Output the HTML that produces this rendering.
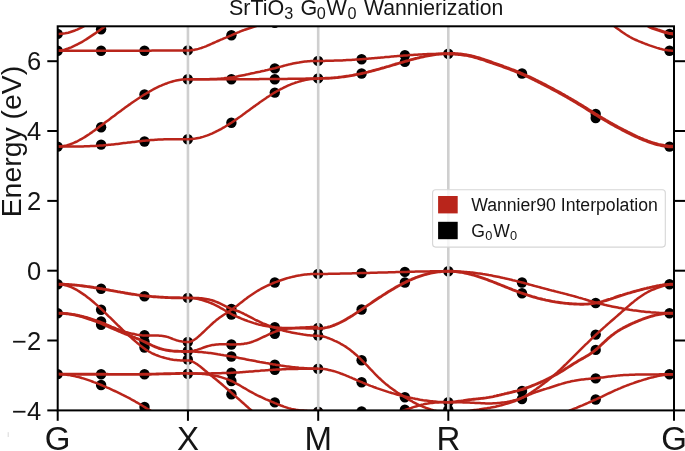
<!DOCTYPE html>
<html><head><meta charset="utf-8"><title>SrTiO3 G0W0 Wannierization</title>
<style>
html,body{margin:0;padding:0;background:#fff;}
body{width:685px;height:451px;overflow:hidden;}
svg{display:block;}
text{font-family:"Liberation Sans",sans-serif;fill:#151515;}
</style></head><body>
<svg width="685" height="451" viewBox="0 0 685 451">
<rect x="0" y="0" width="685" height="451" fill="#ffffff"/>
<defs><clipPath id="ax"><rect x="57.7" y="26.3" width="616.3" height="384.1"/></clipPath></defs>

<g clip-path="url(#ax)" fill="#000000">
<circle cx="57.7" cy="33.9" r="5.2"/>
<circle cx="57.7" cy="50.7" r="5.2"/>
<circle cx="57.7" cy="146.6" r="5.2"/>
<circle cx="57.7" cy="284.2" r="5.2"/>
<circle cx="57.7" cy="313.2" r="5.2"/>
<circle cx="57.7" cy="374.1" r="5.2"/>
<circle cx="101.1" cy="29.2" r="5.2"/>
<circle cx="101.1" cy="50.7" r="5.2"/>
<circle cx="101.1" cy="127.2" r="5.2"/>
<circle cx="101.1" cy="144.6" r="5.2"/>
<circle cx="101.1" cy="288.7" r="5.2"/>
<circle cx="101.1" cy="309.8" r="5.2"/>
<circle cx="101.1" cy="321.5" r="5.2"/>
<circle cx="101.1" cy="324.7" r="5.2"/>
<circle cx="101.1" cy="374.3" r="5.2"/>
<circle cx="101.1" cy="385" r="5.2"/>
<circle cx="144.5" cy="50.7" r="5.2"/>
<circle cx="144.5" cy="94.5" r="5.2"/>
<circle cx="144.5" cy="141.5" r="5.2"/>
<circle cx="144.5" cy="296.2" r="5.2"/>
<circle cx="144.5" cy="335.1" r="5.2"/>
<circle cx="144.5" cy="341.6" r="5.2"/>
<circle cx="144.5" cy="347.5" r="5.2"/>
<circle cx="144.5" cy="374.3" r="5.2"/>
<circle cx="144.5" cy="407" r="5.2"/>
<circle cx="187.8" cy="50.4" r="5.2"/>
<circle cx="187.8" cy="79.3" r="5.2"/>
<circle cx="187.8" cy="139.3" r="5.2"/>
<circle cx="187.8" cy="297.9" r="5.2"/>
<circle cx="187.8" cy="342" r="5.2"/>
<circle cx="187.8" cy="351" r="5.2"/>
<circle cx="187.8" cy="359.5" r="5.2"/>
<circle cx="187.8" cy="373.8" r="5.2"/>
<circle cx="231.4" cy="35.3" r="5.2"/>
<circle cx="231.4" cy="79.3" r="5.2"/>
<circle cx="231.4" cy="122.7" r="5.2"/>
<circle cx="231.4" cy="309" r="5.2"/>
<circle cx="231.4" cy="314.6" r="5.2"/>
<circle cx="231.4" cy="344.5" r="5.2"/>
<circle cx="231.4" cy="356.5" r="5.2"/>
<circle cx="231.4" cy="372.8" r="5.2"/>
<circle cx="231.4" cy="381" r="5.2"/>
<circle cx="231.4" cy="394.3" r="5.2"/>
<circle cx="274.8" cy="22.9" r="5.2"/>
<circle cx="274.8" cy="68.4" r="5.2"/>
<circle cx="274.8" cy="79.3" r="5.2"/>
<circle cx="274.8" cy="92.6" r="5.2"/>
<circle cx="274.8" cy="282.5" r="5.2"/>
<circle cx="274.8" cy="327.2" r="5.2"/>
<circle cx="274.8" cy="333.8" r="5.2"/>
<circle cx="274.8" cy="364.6" r="5.2"/>
<circle cx="274.8" cy="369.7" r="5.2"/>
<circle cx="274.8" cy="402.4" r="5.2"/>
<circle cx="318.1" cy="60.9" r="5.2"/>
<circle cx="318.1" cy="78.4" r="5.2"/>
<circle cx="318.1" cy="273.9" r="5.2"/>
<circle cx="318.1" cy="328" r="5.2"/>
<circle cx="318.1" cy="335.6" r="5.2"/>
<circle cx="318.1" cy="368.7" r="5.2"/>
<circle cx="318.1" cy="411.6" r="5.2"/>
<circle cx="361.6" cy="59.2" r="5.2"/>
<circle cx="361.6" cy="73.5" r="5.2"/>
<circle cx="361.6" cy="273.1" r="5.2"/>
<circle cx="361.6" cy="309.5" r="5.2"/>
<circle cx="361.6" cy="360.2" r="5.2"/>
<circle cx="361.6" cy="382.2" r="5.2"/>
<circle cx="361.6" cy="411.5" r="5.2"/>
<circle cx="404.9" cy="55.2" r="5.2"/>
<circle cx="404.9" cy="61.9" r="5.2"/>
<circle cx="404.9" cy="271.9" r="5.2"/>
<circle cx="404.9" cy="282.5" r="5.2"/>
<circle cx="404.9" cy="397.3" r="5.2"/>
<circle cx="404.9" cy="409.6" r="5.2"/>
<circle cx="448.3" cy="53.7" r="5.2"/>
<circle cx="448.3" cy="271.2" r="5.2"/>
<circle cx="448.3" cy="402.1" r="5.2"/>
<circle cx="448.3" cy="409.6" r="5.2"/>
<circle cx="522.0" cy="73.5" r="5.2"/>
<circle cx="522.0" cy="282.5" r="5.2"/>
<circle cx="522.0" cy="293.2" r="5.2"/>
<circle cx="522.0" cy="391" r="5.2"/>
<circle cx="522.0" cy="399" r="5.2"/>
<circle cx="595.7" cy="114" r="5.2"/>
<circle cx="595.7" cy="118" r="5.2"/>
<circle cx="595.7" cy="303" r="5.2"/>
<circle cx="595.7" cy="334.6" r="5.2"/>
<circle cx="595.7" cy="349.9" r="5.2"/>
<circle cx="595.7" cy="378.4" r="5.2"/>
<circle cx="595.7" cy="399.5" r="5.2"/>
<circle cx="669.5" cy="33.9" r="5.2"/>
<circle cx="669.5" cy="50.7" r="5.2"/>
<circle cx="669.5" cy="146.6" r="5.2"/>
<circle cx="669.5" cy="284.2" r="5.2"/>
<circle cx="669.5" cy="313.2" r="5.2"/>
<circle cx="669.5" cy="374.3" r="5.2"/>
</g>
<g stroke="#cfcfcf" stroke-width="2.6">
<line x1="187.95" y1="26.3" x2="187.95" y2="410.4"/>
<line x1="318.2" y1="26.3" x2="318.2" y2="410.4"/>
<line x1="448.3" y1="26.3" x2="448.3" y2="410.4"/>
</g>
<g clip-path="url(#ax)" fill="none" stroke="#b9251b" stroke-linejoin="round" stroke-linecap="butt">
<path stroke-width="2.5" d="M57.7 50.7 L59.2 50.7 L60.7 50.7 L62.2 50.7 L63.7 50.7 L65.2 50.7 L66.7 50.7 L68.2 50.7 L69.7 50.7 L71.2 50.7 L72.7 50.7 L74.2 50.7 L75.7 50.7 L77.2 50.7 L78.7 50.7 L80.2 50.7 L81.7 50.7 L83.2 50.7 L84.7 50.7 L86.2 50.7 L87.7 50.7 L89.2 50.7 L90.7 50.7 L92.2 50.7 L93.7 50.7 L95.2 50.7 L96.7 50.7 L98.2 50.7 L99.7 50.7 L101.2 50.7 L102.7 50.7 L104.2 50.7 L105.7 50.7 L107.2 50.7 L108.7 50.7 L110.2 50.7 L111.7 50.7 L113.2 50.7 L114.7 50.7 L116.2 50.7 L117.7 50.7 L119.2 50.7 L120.7 50.7 L122.2 50.7 L123.7 50.7 L125.2 50.7 L126.7 50.7 L128.2 50.7 L129.7 50.7 L131.2 50.7 L132.7 50.7 L134.2 50.7 L135.7 50.7 L137.2 50.7 L138.7 50.7 L140.2 50.7 L141.7 50.7 L143.2 50.7 L144.7 50.7 L146.2 50.7 L147.7 50.7 L149.2 50.7 L150.7 50.7 L152.2 50.6 L153.7 50.6 L155.2 50.6 L156.7 50.6 L158.2 50.6 L159.7 50.6 L161.2 50.6 L162.7 50.6 L164.2 50.5 L165.7 50.5 L167.2 50.5 L168.7 50.5 L170.2 50.5 L171.7 50.5 L173.2 50.5 L174.7 50.5 L176.2 50.4 L177.7 50.4 L179.2 50.4 L180.7 50.4 L182.2 50.4 L183.7 50.4 L185.2 50.4 L186.7 50.4 L187.9 50.4"/>
<path stroke-width="2.5" d="M57.7 33.9 L59.2 33.9 L60.7 33.8 L62.2 33.7 L63.7 33.5 L65.2 33.3 L66.7 33.0 L68.2 32.7 L69.7 32.3 L71.2 31.8 L72.7 31.3 L74.2 30.8 L75.7 30.2 L77.2 29.6 L78.7 28.9 L80.2 28.2 L81.7 27.4 L83.2 26.6 L84.7 25.7 L86.2 24.9 L87.7 24.0 L89.2 23.0 L90.7 22.1 L92.2 21.1 L93.7 20.1 L95.2 19.1 L96.7 18.0 L98.2 17.0 L99.7 16.0 L101.1 15.0"/>
<path stroke-width="2.5" d="M57.7 50.7 L59.2 50.6 L60.7 50.5 L62.2 50.2 L63.7 49.9 L65.2 49.5 L66.7 49.0 L68.2 48.5 L69.7 47.9 L71.2 47.3 L72.7 46.6 L74.2 45.9 L75.7 45.2 L77.2 44.5 L78.7 43.7 L80.2 42.9 L81.7 42.1 L83.2 41.2 L84.7 40.3 L86.2 39.4 L87.7 38.4 L89.2 37.4 L90.7 36.4 L92.2 35.4 L93.7 34.4 L95.2 33.4 L96.7 32.3 L98.2 31.3 L99.7 30.2 L101.2 29.1 L102.7 28.0 L104.2 26.9 L105.7 25.7 L107.2 24.5 L108.7 23.3 L110.2 22.0 L111.7 20.8 L113.2 19.5 L114.7 18.3 L115.0 18.0"/>
<path stroke-width="2.5" d="M57.7 146.6 L59.2 146.6 L60.7 146.5 L62.2 146.3 L63.7 146.0 L65.2 145.7 L66.7 145.4 L68.2 144.9 L69.7 144.5 L71.2 143.9 L72.7 143.3 L74.2 142.7 L75.7 142.0 L77.2 141.3 L78.7 140.5 L80.2 139.7 L81.7 138.9 L83.2 138.0 L84.7 137.1 L86.2 136.1 L87.7 135.1 L89.2 134.2 L90.7 133.1 L92.2 132.1 L93.7 131.0 L95.2 129.9 L96.7 128.9 L98.2 127.8 L99.7 126.6 L101.2 125.5 L102.7 124.4 L104.2 123.3 L105.7 122.1 L107.2 121.0 L108.7 119.9 L110.2 118.8 L111.7 117.6 L113.2 116.5 L114.7 115.4 L116.2 114.2 L117.7 113.1 L119.2 112.0 L120.7 110.9 L122.2 109.8 L123.7 108.7 L125.2 107.6 L126.7 106.5 L128.2 105.4 L129.7 104.4 L131.2 103.3 L132.7 102.2 L134.2 101.2 L135.7 100.2 L137.2 99.2 L138.7 98.2 L140.2 97.2 L141.7 96.3 L143.2 95.3 L144.7 94.4 L146.2 93.5 L147.7 92.6 L149.2 91.7 L150.7 90.9 L152.2 90.0 L153.7 89.2 L155.2 88.4 L156.7 87.7 L158.2 86.9 L159.7 86.2 L161.2 85.6 L162.7 84.9 L164.2 84.3 L165.7 83.7 L167.2 83.2 L168.7 82.6 L170.2 82.1 L171.7 81.7 L173.2 81.3 L174.7 80.9 L176.2 80.5 L177.7 80.2 L179.2 79.9 L180.7 79.7 L182.2 79.5 L183.7 79.4 L185.2 79.3 L186.7 79.2 L187.9 79.2"/>
<path stroke-width="2.5" d="M57.7 146.6 L59.2 146.6 L60.7 146.6 L62.2 146.6 L63.7 146.6 L65.2 146.6 L66.7 146.6 L68.2 146.6 L69.7 146.6 L71.2 146.6 L72.7 146.6 L74.2 146.5 L75.7 146.5 L77.2 146.5 L78.7 146.5 L80.2 146.4 L81.7 146.4 L83.2 146.4 L84.7 146.3 L86.2 146.3 L87.7 146.2 L89.2 146.2 L90.7 146.1 L92.2 146.0 L93.7 146.0 L95.2 145.9 L96.7 145.8 L98.2 145.7 L99.7 145.6 L101.2 145.5 L102.7 145.4 L104.2 145.2 L105.7 145.1 L107.2 145.0 L108.7 144.8 L110.2 144.7 L111.7 144.5 L113.2 144.4 L114.7 144.2 L116.2 144.0 L117.7 143.9 L119.2 143.7 L120.7 143.5 L122.2 143.3 L123.7 143.1 L125.2 142.9 L126.7 142.8 L128.2 142.6 L129.7 142.4 L131.2 142.2 L132.7 142.0 L134.2 141.9 L135.7 141.7 L137.2 141.5 L138.7 141.3 L140.2 141.2 L141.7 141.0 L143.2 140.8 L144.7 140.7 L146.2 140.5 L147.7 140.4 L149.2 140.3 L150.7 140.1 L152.2 140.0 L153.7 139.9 L155.2 139.8 L156.7 139.7 L158.2 139.6 L159.7 139.5 L161.2 139.4 L162.7 139.4 L164.2 139.3 L165.7 139.3 L167.2 139.2 L168.7 139.2 L170.2 139.2 L171.7 139.2 L173.2 139.2 L174.7 139.2 L176.2 139.2 L177.7 139.2 L179.2 139.2 L180.7 139.2 L182.2 139.2 L183.7 139.2 L185.2 139.2 L186.7 139.2 L187.9 139.2"/>
<path stroke-width="2.5" d="M187.9 50.4 L189.4 50.4 L190.9 50.3 L192.4 50.1 L193.9 49.9 L195.4 49.6 L196.9 49.3 L198.4 48.9 L199.9 48.4 L201.4 48.0 L202.9 47.4 L204.4 46.9 L205.9 46.3 L207.4 45.6 L208.9 45.0 L210.4 44.3 L211.9 43.7 L213.4 43.0 L214.9 42.3 L216.4 41.7 L217.9 41.0 L219.4 40.3 L220.9 39.7 L222.4 39.1 L223.9 38.4 L225.4 37.8 L226.9 37.2 L228.4 36.6 L229.9 35.9 L231.4 35.3 L232.9 34.6 L234.4 34.0 L235.9 33.3 L237.4 32.7 L238.9 32.1 L240.4 31.4 L241.9 30.8 L243.4 30.3 L244.9 29.7 L246.4 29.2 L247.9 28.7 L249.4 28.2 L250.9 27.7 L252.4 27.2 L253.9 26.8 L255.4 26.4 L256.9 25.9 L258.4 25.5 L259.9 25.1 L261.4 24.7 L262.9 24.3 L264.4 24.0 L265.9 23.6 L267.4 23.2 L268.9 22.9 L270.4 22.5 L271.9 22.2 L273.4 21.8 L274.8 21.5"/>
<path stroke-width="2.5" d="M187.9 79.3 L189.4 79.3 L190.9 79.3 L192.4 79.3 L193.9 79.3 L195.4 79.3 L196.9 79.3 L198.4 79.3 L199.9 79.3 L201.4 79.3 L202.9 79.3 L204.4 79.3 L205.9 79.3 L207.4 79.3 L208.9 79.3 L210.4 79.3 L211.9 79.3 L213.4 79.3 L214.9 79.3 L216.4 79.3 L217.9 79.3 L219.4 79.3 L220.9 79.3 L222.4 79.3 L223.9 79.3 L225.4 79.3 L226.9 79.3 L228.4 79.3 L229.9 79.3 L231.4 79.3 L232.9 79.3 L234.4 79.3 L235.9 79.3 L237.4 79.3 L238.9 79.3 L240.4 79.3 L241.9 79.3 L243.4 79.3 L244.9 79.2 L246.4 79.2 L247.9 79.2 L249.4 79.2 L250.9 79.2 L252.4 79.2 L253.9 79.2 L255.4 79.2 L256.9 79.2 L258.4 79.2 L259.9 79.1 L261.4 79.1 L262.9 79.1 L264.4 79.1 L265.9 79.1 L267.4 79.1 L268.9 79.1 L270.4 79.0 L271.9 79.0 L273.4 79.0 L274.9 79.0 L276.4 79.0 L277.9 79.0 L279.4 78.9 L280.9 78.9 L282.4 78.9 L283.9 78.9 L285.4 78.9 L286.9 78.9 L288.4 78.8 L289.9 78.8 L291.4 78.8 L292.9 78.8 L294.4 78.8 L295.9 78.7 L297.4 78.7 L298.9 78.7 L300.4 78.7 L301.9 78.7 L303.4 78.7 L304.9 78.7 L306.4 78.6 L307.9 78.6 L309.4 78.6 L310.9 78.6 L312.4 78.6 L313.9 78.6 L315.4 78.6 L316.9 78.6 L318.2 78.6"/>
<path stroke-width="2.5" d="M187.9 79.3 L189.4 79.3 L190.9 79.3 L192.4 79.3 L193.9 79.3 L195.4 79.3 L196.9 79.3 L198.4 79.3 L199.9 79.3 L201.4 79.3 L202.9 79.3 L204.4 79.3 L205.9 79.2 L207.4 79.2 L208.9 79.2 L210.4 79.1 L211.9 79.1 L213.4 79.0 L214.9 78.9 L216.4 78.9 L217.9 78.8 L219.4 78.7 L220.9 78.6 L222.4 78.4 L223.9 78.3 L225.4 78.1 L226.9 78.0 L228.4 77.8 L229.9 77.6 L231.4 77.4 L232.9 77.2 L234.4 76.9 L235.9 76.7 L237.4 76.4 L238.9 76.1 L240.4 75.8 L241.9 75.5 L243.4 75.2 L244.9 74.9 L246.4 74.6 L247.9 74.3 L249.4 73.9 L250.9 73.6 L252.4 73.3 L253.9 73.0 L255.4 72.6 L256.9 72.3 L258.4 72.0 L259.9 71.7 L261.4 71.3 L262.9 71.0 L264.4 70.7 L265.9 70.3 L267.4 70.0 L268.9 69.6 L270.4 69.3 L271.9 68.9 L273.4 68.5 L274.9 68.2 L276.4 67.8 L277.9 67.4 L279.4 67.0 L280.9 66.6 L282.4 66.2 L283.9 65.8 L285.4 65.4 L286.9 65.0 L288.4 64.6 L289.9 64.3 L291.4 63.9 L292.9 63.6 L294.4 63.3 L295.9 63.0 L297.4 62.7 L298.9 62.5 L300.4 62.2 L301.9 62.0 L303.4 61.8 L304.9 61.6 L306.4 61.5 L307.9 61.3 L309.4 61.2 L310.9 61.1 L312.4 61.0 L313.9 61.0 L315.4 60.9 L316.9 60.9 L318.2 60.9"/>
<path stroke-width="2.5" d="M187.9 139.2 L189.4 139.2 L190.9 139.1 L192.4 139.0 L193.9 138.8 L195.4 138.6 L196.9 138.3 L198.4 138.0 L199.9 137.7 L201.4 137.3 L202.9 136.9 L204.4 136.4 L205.9 135.9 L207.4 135.4 L208.9 134.8 L210.4 134.2 L211.9 133.6 L213.4 132.9 L214.9 132.2 L216.4 131.4 L217.9 130.7 L219.4 129.9 L220.9 129.1 L222.4 128.2 L223.9 127.4 L225.4 126.5 L226.9 125.5 L228.4 124.6 L229.9 123.6 L231.4 122.7 L232.9 121.7 L234.4 120.7 L235.9 119.6 L237.4 118.6 L238.9 117.5 L240.4 116.5 L241.9 115.4 L243.4 114.3 L244.9 113.2 L246.4 112.1 L247.9 111.0 L249.4 109.9 L250.9 108.8 L252.4 107.7 L253.9 106.6 L255.4 105.6 L256.9 104.5 L258.4 103.4 L259.9 102.3 L261.4 101.3 L262.9 100.2 L264.4 99.2 L265.9 98.2 L267.4 97.1 L268.9 96.2 L270.4 95.2 L271.9 94.2 L273.4 93.3 L274.9 92.4 L276.4 91.5 L277.9 90.7 L279.4 89.8 L280.9 89.0 L282.4 88.3 L283.9 87.5 L285.4 86.8 L286.9 86.1 L288.4 85.4 L289.9 84.8 L291.4 84.2 L292.9 83.6 L294.4 83.1 L295.9 82.5 L297.4 82.1 L298.9 81.6 L300.4 81.2 L301.9 80.8 L303.4 80.4 L304.9 80.1 L306.4 79.8 L307.9 79.5 L309.4 79.3 L310.9 79.1 L312.4 79.0 L313.9 78.8 L315.4 78.8 L316.9 78.7 L318.2 78.7"/>
<path stroke-width="2.5" d="M318.2 60.9 L319.7 60.9 L321.2 60.9 L322.7 60.9 L324.2 60.9 L325.7 60.8 L327.2 60.8 L328.7 60.8 L330.2 60.8 L331.7 60.7 L333.2 60.7 L334.7 60.6 L336.2 60.6 L337.7 60.5 L339.2 60.5 L340.7 60.4 L342.2 60.4 L343.7 60.3 L345.2 60.2 L346.7 60.1 L348.2 60.1 L349.7 60.0 L351.2 59.9 L352.7 59.8 L354.2 59.7 L355.7 59.6 L357.2 59.5 L358.7 59.4 L360.2 59.3 L361.7 59.2 L363.2 59.1 L364.7 59.0 L366.2 58.8 L367.7 58.7 L369.2 58.6 L370.7 58.5 L372.2 58.3 L373.7 58.2 L375.2 58.1 L376.7 58.0 L378.2 57.8 L379.7 57.7 L381.2 57.5 L382.7 57.4 L384.2 57.3 L385.7 57.1 L387.2 57.0 L388.7 56.9 L390.2 56.7 L391.7 56.6 L393.2 56.5 L394.7 56.3 L396.2 56.2 L397.7 56.1 L399.2 56.0 L400.7 55.8 L402.2 55.7 L403.7 55.6 L405.2 55.5 L406.7 55.4 L408.2 55.3 L409.7 55.1 L411.2 55.0 L412.7 54.9 L414.2 54.8 L415.7 54.8 L417.2 54.7 L418.7 54.6 L420.2 54.5 L421.7 54.4 L423.2 54.3 L424.7 54.3 L426.2 54.2 L427.7 54.1 L429.2 54.1 L430.7 54.0 L432.2 54.0 L433.7 53.9 L435.2 53.9 L436.7 53.8 L438.2 53.8 L439.7 53.8 L441.2 53.8 L442.7 53.7 L444.2 53.7 L445.7 53.7 L447.2 53.7 L448.3 53.7"/>
<path stroke-width="2.9" d="M318.2 78.5 L319.7 78.5 L321.2 78.5 L322.7 78.4 L324.2 78.4 L325.7 78.3 L327.2 78.3 L328.7 78.2 L330.2 78.1 L331.7 78.0 L333.2 77.9 L334.7 77.7 L336.2 77.6 L337.7 77.5 L339.2 77.3 L340.7 77.1 L342.2 76.9 L343.7 76.7 L345.2 76.5 L346.7 76.3 L348.2 76.1 L349.7 75.8 L351.2 75.6 L352.7 75.3 L354.2 75.0 L355.7 74.7 L357.2 74.4 L358.7 74.1 L360.2 73.8 L361.7 73.5 L363.2 73.1 L364.7 72.8 L366.2 72.4 L367.7 72.1 L369.2 71.7 L370.7 71.3 L372.2 70.9 L373.7 70.5 L375.2 70.1 L376.7 69.7 L378.2 69.3 L379.7 68.9 L381.2 68.4 L382.7 68.0 L384.2 67.6 L385.7 67.1 L387.2 66.7 L388.7 66.3 L390.2 65.8 L391.7 65.4 L393.2 64.9 L394.7 64.5 L396.2 64.0 L397.7 63.6 L399.2 63.2 L400.7 62.7 L402.2 62.3 L403.7 61.8 L405.2 61.4 L406.7 61.0 L408.2 60.6 L409.7 60.1 L411.2 59.7 L412.7 59.3 L414.2 58.9 L415.7 58.5 L417.2 58.2 L418.7 57.8 L420.2 57.4 L421.7 57.1 L423.2 56.8 L424.7 56.4 L426.2 56.1 L427.7 55.8 L429.2 55.6 L430.7 55.3 L432.2 55.0 L433.7 54.8 L435.2 54.6 L436.7 54.4 L438.2 54.3 L439.7 54.1 L441.2 54.0 L442.7 53.9 L444.2 53.8 L445.7 53.7 L447.2 53.7 L448.3 53.7"/>
<path stroke-width="3.5" d="M448.3 53.7 L449.8 53.7 L451.3 53.7 L452.8 53.8 L454.3 53.8 L455.8 53.9 L457.3 54.0 L458.8 54.2 L460.3 54.3 L461.8 54.5 L463.3 54.7 L464.8 54.9 L466.3 55.1 L467.8 55.4 L469.3 55.7 L470.8 56.0 L472.3 56.4 L473.8 56.8 L475.3 57.2 L476.8 57.6 L478.3 58.0 L479.8 58.5 L481.3 59.0 L482.8 59.4 L484.3 59.9 L485.8 60.5 L487.3 61.0 L488.8 61.5 L490.3 62.0 L491.8 62.5 L493.3 63.1 L494.8 63.6 L496.3 64.1 L497.8 64.6 L499.3 65.2 L500.8 65.7 L502.3 66.2 L503.8 66.8 L505.3 67.3 L506.8 67.9 L508.3 68.4 L509.8 69.0 L511.3 69.6 L512.8 70.1 L514.3 70.7 L515.8 71.3 L517.3 71.9 L518.8 72.5 L520.3 73.2 L521.8 73.8 L523.3 74.5 L524.8 75.1 L526.3 75.8 L527.8 76.5 L529.3 77.2 L530.8 77.9 L532.3 78.6 L533.8 79.3 L535.3 80.1 L536.8 80.8 L538.3 81.6 L539.8 82.3 L541.3 83.1 L542.8 83.9 L544.3 84.6 L545.8 85.4 L547.3 86.2 L548.8 87.0 L550.3 87.8 L551.8 88.6 L553.3 89.4 L554.8 90.2 L556.3 91.0 L557.8 91.8 L559.3 92.6 L560.8 93.4 L562.3 94.3 L563.8 95.1 L565.3 96.0 L566.8 96.8 L568.3 97.7 L569.8 98.5 L571.3 99.4 L572.8 100.3 L574.3 101.2 L575.8 102.1 L577.3 103.0 L578.8 103.9 L580.3 104.8 L581.8 105.7 L583.3 106.6 L584.8 107.6 L586.3 108.5 L587.8 109.5 L589.3 110.4 L590.8 111.3 L592.3 112.3 L593.8 113.2 L595.3 114.2 L596.8 115.1 L598.3 116.0 L599.8 116.9 L601.3 117.8 L602.8 118.7 L604.3 119.6 L605.8 120.5 L607.3 121.3 L608.8 122.2 L610.3 123.1 L611.8 123.9 L613.3 124.7 L614.8 125.6 L616.3 126.4 L617.8 127.2 L619.3 128.0 L620.8 128.8 L622.3 129.6 L623.8 130.4 L625.3 131.1 L626.8 131.9 L628.3 132.7 L629.8 133.4 L631.3 134.1 L632.8 134.9 L634.3 135.6 L635.8 136.3 L637.3 137.0 L638.8 137.6 L640.3 138.3 L641.8 138.9 L643.3 139.6 L644.8 140.2 L646.3 140.7 L647.8 141.3 L649.3 141.8 L650.8 142.4 L652.3 142.9 L653.8 143.3 L655.3 143.8 L656.8 144.2 L658.3 144.6 L659.8 144.9 L661.3 145.2 L662.8 145.5 L664.3 145.8 L665.8 146.0 L667.3 146.2 L668.8 146.4 L670.3 146.5 L671.8 146.6 L673.3 146.6 L674.0 146.6"/>
<path stroke-width="2.5" d="M600.0 14.0 L601.5 15.3 L603.0 16.6 L604.5 17.9 L606.0 19.2 L607.5 20.5 L609.0 21.8 L610.5 23.0 L612.0 24.3 L613.5 25.5 L615.0 26.7 L616.5 27.9 L618.0 29.0 L619.5 30.1 L621.0 31.2 L622.5 32.3 L624.0 33.3 L625.5 34.3 L627.0 35.2 L628.5 36.1 L630.0 37.0 L631.5 37.8 L633.0 38.6 L634.5 39.3 L636.0 40.0 L637.5 40.7 L639.0 41.3 L640.5 41.9 L642.0 42.5 L643.5 43.1 L645.0 43.7 L646.5 44.2 L648.0 44.8 L649.5 45.4 L651.0 45.9 L652.5 46.4 L654.0 46.9 L655.5 47.4 L657.0 47.9 L658.5 48.3 L660.0 48.8 L661.5 49.1 L663.0 49.5 L664.5 49.8 L666.0 50.0 L667.5 50.3 L669.0 50.4 L670.5 50.6 L672.0 50.7 L673.5 50.7 L674.0 50.7"/>
<path stroke-width="3.2" d="M640.0 20.0 L641.5 21.2 L643.0 22.4 L644.5 23.5 L646.0 24.6 L647.5 25.6 L649.0 26.5 L650.5 27.3 L652.0 27.9 L653.5 28.5 L655.0 29.0 L656.5 29.5 L658.0 30.0 L659.5 30.4 L661.0 30.9 L662.5 31.4 L664.0 31.9 L665.5 32.4 L667.0 32.8 L668.5 33.2 L670.0 33.5 L671.5 33.7 L673.0 33.9 L674.0 33.9"/>
<path stroke-width="2.9" d="M57.7 284.2 L59.2 284.2 L60.7 284.2 L62.2 284.3 L63.7 284.3 L65.2 284.4 L66.7 284.4 L68.2 284.5 L69.7 284.6 L71.2 284.7 L72.7 284.9 L74.2 285.0 L75.7 285.1 L77.2 285.3 L78.7 285.4 L80.2 285.6 L81.7 285.8 L83.2 286.0 L84.7 286.2 L86.2 286.4 L87.7 286.6 L89.2 286.8 L90.7 287.0 L92.2 287.2 L93.7 287.5 L95.2 287.7 L96.7 288.0 L98.2 288.2 L99.7 288.5 L101.2 288.7 L102.7 289.0 L104.2 289.2 L105.7 289.5 L107.2 289.8 L108.7 290.0 L110.2 290.3 L111.7 290.6 L113.2 290.8 L114.7 291.1 L116.2 291.4 L117.7 291.7 L119.2 291.9 L120.7 292.2 L122.2 292.4 L123.7 292.7 L125.2 293.0 L126.7 293.2 L128.2 293.5 L129.7 293.7 L131.2 294.0 L132.7 294.2 L134.2 294.4 L135.7 294.6 L137.2 294.9 L138.7 295.1 L140.2 295.3 L141.7 295.5 L143.2 295.6 L144.7 295.8 L146.2 296.0 L147.7 296.2 L149.2 296.3 L150.7 296.4 L152.2 296.6 L153.7 296.7 L155.2 296.8 L156.7 296.9 L158.2 297.0 L159.7 297.1 L161.2 297.2 L162.7 297.3 L164.2 297.4 L165.7 297.5 L167.2 297.5 L168.7 297.6 L170.2 297.6 L171.7 297.7 L173.2 297.7 L174.7 297.8 L176.2 297.8 L177.7 297.8 L179.2 297.8 L180.7 297.9 L182.2 297.9 L183.7 297.9 L185.2 297.9 L186.7 297.9 L187.9 297.9"/>
<path stroke-width="2.5" d="M57.7 284.2 L59.2 284.2 L60.7 284.4 L62.2 284.6 L63.7 284.8 L65.2 285.2 L66.7 285.6 L68.2 286.1 L69.7 286.6 L71.2 287.2 L72.7 287.9 L74.2 288.6 L75.7 289.4 L77.2 290.2 L78.7 291.1 L80.2 292.1 L81.7 293.1 L83.2 294.1 L84.7 295.1 L86.2 296.2 L87.7 297.4 L89.2 298.6 L90.7 299.8 L92.2 301.0 L93.7 302.3 L95.2 303.6 L96.7 304.9 L98.2 306.2 L99.7 307.6 L101.2 309.0 L102.7 310.4 L104.2 311.9 L105.7 313.3 L107.2 314.8 L108.7 316.3 L110.2 317.7 L111.7 319.2 L113.2 320.7 L114.7 322.2 L116.2 323.6 L117.7 325.1 L119.2 326.5 L120.7 327.9 L122.2 329.4 L123.7 330.8 L125.2 332.2 L126.7 333.6 L128.2 334.9 L129.7 336.3 L131.2 337.6 L132.7 339.0 L134.2 340.3 L135.7 341.6 L137.2 342.9 L138.7 344.1 L140.2 345.4 L141.7 346.6 L143.2 347.7 L144.7 348.8 L146.2 349.9 L147.7 350.8 L149.2 351.7 L150.7 352.5 L152.2 353.3 L153.7 354.0 L155.2 354.7 L156.7 355.3 L158.2 355.8 L159.7 356.4 L161.2 356.9 L162.7 357.3 L164.2 357.7 L165.7 358.1 L167.2 358.5 L168.7 358.8 L170.2 359.2 L171.7 359.4 L173.2 359.7 L174.7 359.9 L176.2 360.0 L177.7 360.2 L179.2 360.3 L180.7 360.4 L182.2 360.4 L183.7 360.5 L185.2 360.5 L186.7 360.5 L187.9 360.5"/>
<path stroke-width="2.5" d="M57.7 313.2 L59.2 313.2 L60.7 313.2 L62.2 313.3 L63.7 313.4 L65.2 313.5 L66.7 313.6 L68.2 313.8 L69.7 313.9 L71.2 314.1 L72.7 314.4 L74.2 314.6 L75.7 314.9 L77.2 315.1 L78.7 315.4 L80.2 315.8 L81.7 316.1 L83.2 316.5 L84.7 316.9 L86.2 317.3 L87.7 317.7 L89.2 318.1 L90.7 318.6 L92.2 319.1 L93.7 319.6 L95.2 320.1 L96.7 320.6 L98.2 321.2 L99.7 321.7 L101.2 322.3 L102.7 322.9 L104.2 323.5 L105.7 324.2 L107.2 324.8 L108.7 325.5 L110.2 326.1 L111.7 326.8 L113.2 327.4 L114.7 328.0 L116.2 328.7 L117.7 329.3 L119.2 329.8 L120.7 330.4 L122.2 330.9 L123.7 331.4 L125.2 331.9 L126.7 332.3 L128.2 332.7 L129.7 333.1 L131.2 333.5 L132.7 333.8 L134.2 334.1 L135.7 334.4 L137.2 334.7 L138.7 334.9 L140.2 335.1 L141.7 335.3 L143.2 335.4 L144.7 335.5 L146.2 335.6 L147.7 335.6 L149.2 335.6 L150.7 335.6 L152.2 335.6 L153.7 335.6 L155.2 335.6 L156.7 335.6 L158.2 335.6 L159.7 335.7 L161.2 335.8 L162.7 335.9 L164.2 336.2 L165.7 336.5 L167.2 336.9 L168.7 337.3 L170.2 337.9 L171.7 338.5 L173.2 339.1 L174.7 339.6 L176.2 340.2 L177.7 340.6 L179.2 341.0 L180.7 341.3 L182.2 341.6 L183.7 341.8 L185.2 341.9 L186.7 342.0 L187.9 342.0"/>
<path stroke-width="2.9" d="M57.7 313.2 L59.2 313.2 L60.7 313.3 L62.2 313.3 L63.7 313.4 L65.2 313.6 L66.7 313.7 L68.2 313.9 L69.7 314.1 L71.2 314.4 L72.7 314.6 L74.2 314.9 L75.7 315.2 L77.2 315.6 L78.7 315.9 L80.2 316.3 L81.7 316.7 L83.2 317.1 L84.7 317.6 L86.2 318.0 L87.7 318.5 L89.2 319.0 L90.7 319.5 L92.2 320.1 L93.7 320.6 L95.2 321.2 L96.7 321.7 L98.2 322.3 L99.7 322.9 L101.2 323.5 L102.7 324.2 L104.2 324.8 L105.7 325.4 L107.2 326.1 L108.7 326.8 L110.2 327.4 L111.7 328.1 L113.2 328.7 L114.7 329.4 L116.2 330.0 L117.7 330.7 L119.2 331.3 L120.7 332.0 L122.2 332.6 L123.7 333.2 L125.2 333.8 L126.7 334.4 L128.2 335.0 L129.7 335.6 L131.2 336.2 L132.7 336.8 L134.2 337.3 L135.7 338.0 L137.2 338.6 L138.7 339.2 L140.2 339.8 L141.7 340.5 L143.2 341.2 L144.7 341.9 L146.2 342.6 L147.7 343.4 L149.2 344.1 L150.7 344.8 L152.2 345.5 L153.7 346.2 L155.2 346.8 L156.7 347.4 L158.2 348.0 L159.7 348.5 L161.2 348.9 L162.7 349.3 L164.2 349.7 L165.7 350.0 L167.2 350.3 L168.7 350.5 L170.2 350.7 L171.7 350.9 L173.2 351.1 L174.7 351.2 L176.2 351.3 L177.7 351.3 L179.2 351.4 L180.7 351.4 L182.2 351.5 L183.7 351.5 L185.2 351.5 L186.7 351.5 L187.9 351.5"/>
<path stroke-width="2.9" d="M57.7 374.1 L59.2 374.1 L60.7 374.1 L62.2 374.1 L63.7 374.1 L65.2 374.1 L66.7 374.1 L68.2 374.1 L69.7 374.1 L71.2 374.1 L72.7 374.1 L74.2 374.1 L75.7 374.1 L77.2 374.1 L78.7 374.2 L80.2 374.2 L81.7 374.2 L83.2 374.2 L84.7 374.2 L86.2 374.2 L87.7 374.2 L89.2 374.2 L90.7 374.2 L92.2 374.2 L93.7 374.2 L95.2 374.3 L96.7 374.3 L98.2 374.3 L99.7 374.3 L101.2 374.3 L102.7 374.3 L104.2 374.3 L105.7 374.3 L107.2 374.3 L108.7 374.4 L110.2 374.4 L111.7 374.4 L113.2 374.4 L114.7 374.4 L116.2 374.4 L117.7 374.4 L119.2 374.4 L120.7 374.4 L122.2 374.4 L123.7 374.4 L125.2 374.4 L126.7 374.4 L128.2 374.4 L129.7 374.4 L131.2 374.4 L132.7 374.4 L134.2 374.4 L135.7 374.4 L137.2 374.4 L138.7 374.4 L140.2 374.4 L141.7 374.3 L143.2 374.3 L144.7 374.3 L146.2 374.3 L147.7 374.2 L149.2 374.2 L150.7 374.2 L152.2 374.1 L153.7 374.1 L155.2 374.1 L156.7 374.0 L158.2 374.0 L159.7 373.9 L161.2 373.9 L162.7 373.9 L164.2 373.8 L165.7 373.8 L167.2 373.7 L168.7 373.7 L170.2 373.7 L171.7 373.6 L173.2 373.6 L174.7 373.6 L176.2 373.5 L177.7 373.5 L179.2 373.5 L180.7 373.4 L182.2 373.4 L183.7 373.4 L185.2 373.4 L186.7 373.4 L187.9 373.4"/>
<path stroke-width="2.5" d="M57.7 374.1 L59.2 374.1 L60.7 374.2 L62.2 374.3 L63.7 374.4 L65.2 374.5 L66.7 374.7 L68.2 374.9 L69.7 375.1 L71.2 375.4 L72.7 375.7 L74.2 376.0 L75.7 376.4 L77.2 376.7 L78.7 377.1 L80.2 377.5 L81.7 378.0 L83.2 378.4 L84.7 378.9 L86.2 379.4 L87.7 379.9 L89.2 380.4 L90.7 380.9 L92.2 381.5 L93.7 382.1 L95.2 382.6 L96.7 383.2 L98.2 383.8 L99.7 384.4 L101.2 385.0 L102.7 385.7 L104.2 386.3 L105.7 386.9 L107.2 387.6 L108.7 388.2 L110.2 388.9 L111.7 389.6 L113.2 390.3 L114.7 391.0 L116.2 391.7 L117.7 392.4 L119.2 393.1 L120.7 393.8 L122.2 394.6 L123.7 395.3 L125.2 396.1 L126.7 396.9 L128.2 397.6 L129.7 398.4 L131.2 399.3 L132.7 400.1 L134.2 400.9 L135.7 401.8 L137.2 402.6 L138.7 403.5 L140.2 404.4 L141.7 405.3 L143.2 406.2 L144.7 407.1 L146.2 408.1 L147.7 409.0 L149.2 409.9 L150.7 410.8 L152.2 411.7 L153.7 412.5 L155.2 413.3 L156.7 414.0 L158.2 414.8 L159.7 415.5 L161.2 416.2 L162.7 416.9 L164.2 417.5 L165.7 418.2 L167.2 418.8 L168.7 419.4 L170.0 420.0"/>
<path stroke-width="2.5" d="M187.9 297.9 L189.4 297.9 L190.9 297.9 L192.4 297.9 L193.9 297.9 L195.4 297.9 L196.9 298.0 L198.4 298.1 L199.9 298.2 L201.4 298.3 L202.9 298.5 L204.4 298.7 L205.9 298.9 L207.4 299.2 L208.9 299.5 L210.4 299.9 L211.9 300.3 L213.4 300.8 L214.9 301.3 L216.4 301.9 L217.9 302.5 L219.4 303.2 L220.9 303.9 L222.4 304.6 L223.9 305.3 L225.4 306.1 L226.9 306.8 L228.4 307.5 L229.9 308.2 L231.4 308.8 L232.9 309.4 L234.4 309.9 L235.9 310.5 L237.4 311.0 L238.9 311.5 L240.4 312.2 L241.9 312.8 L243.4 313.5 L244.9 314.3 L246.4 315.0 L247.9 315.8 L249.4 316.6 L250.9 317.4 L252.4 318.2 L253.9 319.0 L255.4 319.8 L256.9 320.5 L258.4 321.2 L259.9 321.9 L261.4 322.6 L262.9 323.3 L264.4 323.9 L265.9 324.5 L267.4 325.1 L268.9 325.7 L270.4 326.3 L271.9 326.9 L273.4 327.4 L274.9 327.9 L276.4 328.4 L277.9 328.9 L279.4 329.4 L280.9 329.9 L282.4 330.3 L283.9 330.7 L285.4 331.1 L286.9 331.4 L288.4 331.8 L289.9 332.1 L291.4 332.4 L292.9 332.7 L294.4 333.0 L295.9 333.3 L297.4 333.6 L298.9 333.8 L300.4 334.1 L301.9 334.3 L303.4 334.6 L304.9 334.8 L306.4 335.0 L307.9 335.2 L309.4 335.3 L310.9 335.5 L312.4 335.6 L313.9 335.7 L315.4 335.7 L316.9 335.8 L318.2 335.8"/>
<path stroke-width="2.5" d="M187.9 297.9 L189.4 297.9 L190.9 298.0 L192.4 298.1 L193.9 298.3 L195.4 298.6 L196.9 298.8 L198.4 299.1 L199.9 299.5 L201.4 299.9 L202.9 300.3 L204.4 300.7 L205.9 301.2 L207.4 301.7 L208.9 302.3 L210.4 302.9 L211.9 303.5 L213.4 304.2 L214.9 304.9 L216.4 305.6 L217.9 306.4 L219.4 307.2 L220.9 308.1 L222.4 308.9 L223.9 309.8 L225.4 310.7 L226.9 311.5 L228.4 312.4 L229.9 313.2 L231.4 314.0 L232.9 314.8 L234.4 315.5 L235.9 316.2 L237.4 316.9 L238.9 317.5 L240.4 318.2 L241.9 318.8 L243.4 319.4 L244.9 320.0 L246.4 320.5 L247.9 321.1 L249.4 321.6 L250.9 322.1 L252.4 322.6 L253.9 323.1 L255.4 323.5 L256.9 324.0 L258.4 324.4 L259.9 324.7 L261.4 325.1 L262.9 325.4 L264.4 325.7 L265.9 326.0 L267.4 326.3 L268.9 326.5 L270.4 326.7 L271.9 326.9 L273.4 327.1 L274.9 327.3 L276.4 327.4 L277.9 327.6 L279.4 327.7 L280.9 327.8 L282.4 327.9 L283.9 327.9 L285.4 327.9 L286.9 328.0 L288.4 328.0 L289.9 328.0 L291.4 327.9 L292.9 327.9 L294.4 327.9 L295.9 327.8 L297.4 327.7 L298.9 327.7 L300.4 327.6 L301.9 327.5 L303.4 327.5 L304.9 327.4 L306.4 327.3 L307.9 327.3 L309.4 327.2 L310.9 327.1 L312.4 327.1 L313.9 327.1 L315.4 327.0 L316.9 327.0 L318.2 327.0"/>
<path stroke-width="2.5" d="M187.9 342.0 L189.4 341.9 L190.9 341.5 L192.4 340.8 L193.9 340.0 L195.4 339.0 L196.9 337.9 L198.4 336.6 L199.9 335.3 L201.4 333.9 L202.9 332.5 L204.4 331.1 L205.9 329.7 L207.4 328.2 L208.9 326.8 L210.4 325.4 L211.9 324.0 L213.4 322.6 L214.9 321.4 L216.4 320.1 L217.9 318.9 L219.4 317.8 L220.9 316.8 L222.4 315.7 L223.9 314.7 L225.4 313.8 L226.9 312.8 L228.4 311.8 L229.9 310.8 L231.4 309.8 L232.9 308.7 L234.4 307.6 L235.9 306.5 L237.4 305.4 L238.9 304.2 L240.4 303.1 L241.9 301.9 L243.4 300.7 L244.9 299.6 L246.4 298.5 L247.9 297.3 L249.4 296.2 L250.9 295.2 L252.4 294.2 L253.9 293.2 L255.4 292.2 L256.9 291.3 L258.4 290.4 L259.9 289.5 L261.4 288.7 L262.9 287.9 L264.4 287.1 L265.9 286.4 L267.4 285.7 L268.9 285.0 L270.4 284.3 L271.9 283.7 L273.4 283.0 L274.9 282.4 L276.4 281.9 L277.9 281.3 L279.4 280.7 L280.9 280.2 L282.4 279.7 L283.9 279.2 L285.4 278.7 L286.9 278.3 L288.4 277.9 L289.9 277.5 L291.4 277.1 L292.9 276.7 L294.4 276.4 L295.9 276.1 L297.4 275.8 L298.9 275.5 L300.4 275.3 L301.9 275.0 L303.4 274.8 L304.9 274.6 L306.4 274.5 L307.9 274.3 L309.4 274.2 L310.9 274.1 L312.4 274.0 L313.9 274.0 L315.4 273.9 L316.9 273.9 L318.2 273.9"/>
<path stroke-width="2.5" d="M187.9 351.5 L189.4 351.4 L190.9 351.3 L192.4 351.0 L193.9 350.7 L195.4 350.3 L196.9 349.9 L198.4 349.4 L199.9 348.9 L201.4 348.4 L202.9 347.8 L204.4 347.3 L205.9 346.8 L207.4 346.3 L208.9 345.9 L210.4 345.5 L211.9 345.1 L213.4 344.9 L214.9 344.7 L216.4 344.5 L217.9 344.4 L219.4 344.3 L220.9 344.3 L222.4 344.2 L223.9 344.2 L225.4 344.3 L226.9 344.3 L228.4 344.3 L229.9 344.4 L231.4 344.4 L232.9 344.4 L234.4 344.4 L235.9 344.4 L237.4 344.3 L238.9 344.3 L240.4 344.2 L241.9 344.0 L243.4 343.9 L244.9 343.6 L246.4 343.4 L247.9 343.1 L249.4 342.7 L250.9 342.3 L252.4 341.8 L253.9 341.2 L255.4 340.6 L256.9 340.0 L258.4 339.3 L259.9 338.6 L261.4 337.9 L262.9 337.2 L264.4 336.5 L265.9 335.8 L267.4 335.1 L268.9 334.4 L270.4 333.7 L271.9 333.1 L273.4 332.4 L274.9 331.8 L276.4 331.2 L277.9 330.7 L279.4 330.2 L280.9 329.8 L282.4 329.4 L283.9 329.1 L285.4 328.9 L286.9 328.7 L288.4 328.6 L289.9 328.4 L291.4 328.4 L292.9 328.3 L294.4 328.3 L295.9 328.3 L297.4 328.3 L298.9 328.3 L300.4 328.3 L301.9 328.3 L303.4 328.3 L304.9 328.3 L306.4 328.4 L307.9 328.4 L309.4 328.4 L310.9 328.4 L312.4 328.4 L313.9 328.4 L315.4 328.4 L316.9 328.4 L318.2 328.4"/>
<path stroke-width="2.5" d="M187.9 351.5 L189.4 351.5 L190.9 351.5 L192.4 351.6 L193.9 351.6 L195.4 351.7 L196.9 351.8 L198.4 351.9 L199.9 352.0 L201.4 352.1 L202.9 352.2 L204.4 352.4 L205.9 352.6 L207.4 352.7 L208.9 352.9 L210.4 353.1 L211.9 353.3 L213.4 353.5 L214.9 353.7 L216.4 353.9 L217.9 354.2 L219.4 354.4 L220.9 354.7 L222.4 354.9 L223.9 355.2 L225.4 355.4 L226.9 355.7 L228.4 356.0 L229.9 356.2 L231.4 356.5 L232.9 356.8 L234.4 357.1 L235.9 357.4 L237.4 357.6 L238.9 357.9 L240.4 358.2 L241.9 358.5 L243.4 358.8 L244.9 359.1 L246.4 359.4 L247.9 359.7 L249.4 360.0 L250.9 360.2 L252.4 360.5 L253.9 360.8 L255.4 361.1 L256.9 361.4 L258.4 361.7 L259.9 362.0 L261.4 362.2 L262.9 362.5 L264.4 362.8 L265.9 363.1 L267.4 363.3 L268.9 363.6 L270.4 363.9 L271.9 364.1 L273.4 364.4 L274.9 364.6 L276.4 364.9 L277.9 365.1 L279.4 365.3 L280.9 365.6 L282.4 365.8 L283.9 366.0 L285.4 366.2 L286.9 366.4 L288.4 366.6 L289.9 366.8 L291.4 367.0 L292.9 367.2 L294.4 367.3 L295.9 367.5 L297.4 367.6 L298.9 367.8 L300.4 367.9 L301.9 368.0 L303.4 368.1 L304.9 368.2 L306.4 368.3 L307.9 368.4 L309.4 368.5 L310.9 368.6 L312.4 368.6 L313.9 368.7 L315.4 368.7 L316.9 368.7 L318.2 368.7"/>
<path stroke-width="2.5" d="M187.9 360.5 L189.4 360.6 L190.9 361.0 L192.4 361.5 L193.9 362.3 L195.4 363.2 L196.9 364.1 L198.4 365.2 L199.9 366.3 L201.4 367.5 L202.9 368.7 L204.4 370.0 L205.9 371.2 L207.4 372.5 L208.9 373.7 L210.4 374.9 L211.9 376.1 L213.4 377.4 L214.9 378.6 L216.4 379.8 L217.9 381.0 L219.4 382.3 L220.9 383.5 L222.4 384.8 L223.9 386.1 L225.4 387.4 L226.9 388.7 L228.4 390.0 L229.9 391.3 L231.4 392.6 L232.9 394.0 L234.4 395.3 L235.9 396.6 L237.4 398.0 L238.9 399.3 L240.4 400.6 L241.9 402.0 L243.4 403.3 L244.9 404.6 L246.4 406.0 L247.9 407.3 L249.4 408.7 L250.9 410.0 L252.4 411.4 L253.9 412.7 L255.4 414.1 L256.9 415.4 L258.4 416.8 L259.9 418.1 L261.4 419.5 L262.0 420.0"/>
<path stroke-width="2.5" d="M187.9 373.4 L189.4 373.4 L190.9 373.4 L192.4 373.4 L193.9 373.4 L195.4 373.4 L196.9 373.4 L198.4 373.4 L199.9 373.4 L201.4 373.4 L202.9 373.4 L204.4 373.4 L205.9 373.4 L207.4 373.4 L208.9 373.4 L210.4 373.4 L211.9 373.3 L213.4 373.3 L214.9 373.3 L216.4 373.3 L217.9 373.3 L219.4 373.2 L220.9 373.2 L222.4 373.1 L223.9 373.1 L225.4 373.0 L226.9 373.0 L228.4 372.9 L229.9 372.9 L231.4 372.8 L232.9 372.7 L234.4 372.6 L235.9 372.6 L237.4 372.5 L238.9 372.4 L240.4 372.3 L241.9 372.2 L243.4 372.0 L244.9 371.9 L246.4 371.8 L247.9 371.7 L249.4 371.6 L250.9 371.5 L252.4 371.4 L253.9 371.2 L255.4 371.1 L256.9 371.0 L258.4 370.9 L259.9 370.8 L261.4 370.6 L262.9 370.5 L264.4 370.4 L265.9 370.3 L267.4 370.2 L268.9 370.1 L270.4 370.0 L271.9 369.9 L273.4 369.8 L274.9 369.7 L276.4 369.6 L277.9 369.5 L279.4 369.5 L280.9 369.4 L282.4 369.3 L283.9 369.3 L285.4 369.2 L286.9 369.1 L288.4 369.1 L289.9 369.0 L291.4 369.0 L292.9 369.0 L294.4 368.9 L295.9 368.9 L297.4 368.9 L298.9 368.8 L300.4 368.8 L301.9 368.8 L303.4 368.8 L304.9 368.8 L306.4 368.7 L307.9 368.7 L309.4 368.7 L310.9 368.7 L312.4 368.7 L313.9 368.7 L315.4 368.7 L316.9 368.7 L318.2 368.7"/>
<path stroke-width="2.5" d="M187.9 373.4 L189.4 373.4 L190.9 373.4 L192.4 373.4 L193.9 373.5 L195.4 373.5 L196.9 373.6 L198.4 373.7 L199.9 373.7 L201.4 373.8 L202.9 374.0 L204.4 374.1 L205.9 374.3 L207.4 374.4 L208.9 374.6 L210.4 374.9 L211.9 375.1 L213.4 375.4 L214.9 375.7 L216.4 376.0 L217.9 376.3 L219.4 376.7 L220.9 377.1 L222.4 377.6 L223.9 378.1 L225.4 378.6 L226.9 379.1 L228.4 379.7 L229.9 380.3 L231.4 381.0 L232.9 381.7 L234.4 382.5 L235.9 383.3 L237.4 384.1 L238.9 384.9 L240.4 385.8 L241.9 386.7 L243.4 387.6 L244.9 388.4 L246.4 389.3 L247.9 390.2 L249.4 391.1 L250.9 391.9 L252.4 392.7 L253.9 393.5 L255.4 394.3 L256.9 395.1 L258.4 395.8 L259.9 396.5 L261.4 397.2 L262.9 397.9 L264.4 398.6 L265.9 399.3 L267.4 399.9 L268.9 400.5 L270.4 401.2 L271.9 401.8 L273.4 402.4 L274.9 403.1 L276.4 403.7 L277.9 404.3 L279.4 404.9 L280.9 405.5 L282.4 406.0 L283.9 406.6 L285.4 407.1 L286.9 407.6 L288.4 408.1 L289.9 408.5 L291.4 408.9 L292.9 409.2 L294.4 409.5 L295.9 409.8 L297.4 410.0 L298.9 410.2 L300.4 410.4 L301.9 410.5 L303.4 410.6 L304.9 410.7 L306.4 410.8 L307.9 410.9 L309.4 410.9 L310.9 411.0 L312.4 411.0 L313.9 411.0 L315.4 411.0 L316.9 411.0 L318.2 411.0"/>
<path stroke-width="2.5" d="M318.2 273.9 L319.7 273.9 L321.2 273.9 L322.7 273.9 L324.2 273.9 L325.7 273.9 L327.2 273.9 L328.7 273.8 L330.2 273.8 L331.7 273.8 L333.2 273.8 L334.7 273.8 L336.2 273.7 L337.7 273.7 L339.2 273.7 L340.7 273.6 L342.2 273.6 L343.7 273.6 L345.2 273.5 L346.7 273.5 L348.2 273.5 L349.7 273.4 L351.2 273.4 L352.7 273.3 L354.2 273.3 L355.7 273.3 L357.2 273.2 L358.7 273.2 L360.2 273.1 L361.7 273.1 L363.2 273.1 L364.7 273.0 L366.2 273.0 L367.7 272.9 L369.2 272.9 L370.7 272.8 L372.2 272.8 L373.7 272.8 L375.2 272.7 L376.7 272.7 L378.2 272.6 L379.7 272.6 L381.2 272.5 L382.7 272.5 L384.2 272.5 L385.7 272.4 L387.2 272.4 L388.7 272.3 L390.2 272.3 L391.7 272.3 L393.2 272.2 L394.7 272.2 L396.2 272.1 L397.7 272.1 L399.2 272.0 L400.7 272.0 L402.2 272.0 L403.7 271.9 L405.2 271.9 L406.7 271.9 L408.2 271.8 L409.7 271.8 L411.2 271.7 L412.7 271.7 L414.2 271.7 L415.7 271.6 L417.2 271.6 L418.7 271.6 L420.2 271.5 L421.7 271.5 L423.2 271.5 L424.7 271.4 L426.2 271.4 L427.7 271.4 L429.2 271.4 L430.7 271.3 L432.2 271.3 L433.7 271.3 L435.2 271.3 L436.7 271.3 L438.2 271.2 L439.7 271.2 L441.2 271.2 L442.7 271.2 L444.2 271.2 L445.7 271.2 L447.2 271.2 L448.3 271.2"/>
<path stroke-width="2.9" d="M318.2 328.5 L319.7 328.5 L321.2 328.4 L322.7 328.2 L324.2 328.0 L325.7 327.7 L327.2 327.4 L328.7 327.0 L330.2 326.6 L331.7 326.1 L333.2 325.5 L334.7 325.0 L336.2 324.3 L337.7 323.7 L339.2 323.0 L340.7 322.3 L342.2 321.5 L343.7 320.7 L345.2 319.9 L346.7 319.0 L348.2 318.1 L349.7 317.2 L351.2 316.3 L352.7 315.4 L354.2 314.4 L355.7 313.4 L357.2 312.4 L358.7 311.4 L360.2 310.4 L361.7 309.4 L363.2 308.4 L364.7 307.4 L366.2 306.4 L367.7 305.4 L369.2 304.4 L370.7 303.4 L372.2 302.3 L373.7 301.3 L375.2 300.3 L376.7 299.3 L378.2 298.3 L379.7 297.3 L381.2 296.4 L382.7 295.4 L384.2 294.4 L385.7 293.5 L387.2 292.5 L388.7 291.6 L390.2 290.7 L391.7 289.8 L393.2 288.9 L394.7 288.0 L396.2 287.1 L397.7 286.3 L399.2 285.5 L400.7 284.7 L402.2 283.9 L403.7 283.1 L405.2 282.4 L406.7 281.6 L408.2 280.9 L409.7 280.2 L411.2 279.6 L412.7 278.9 L414.2 278.3 L415.7 277.7 L417.2 277.2 L418.7 276.6 L420.2 276.1 L421.7 275.6 L423.2 275.1 L424.7 274.7 L426.2 274.3 L427.7 273.9 L429.2 273.5 L430.7 273.2 L432.2 272.9 L433.7 272.6 L435.2 272.3 L436.7 272.1 L438.2 271.9 L439.7 271.7 L441.2 271.5 L442.7 271.4 L444.2 271.3 L445.7 271.2 L447.2 271.2 L448.3 271.2"/>
<path stroke-width="2.5" d="M318.2 335.8 L319.7 335.9 L321.2 336.0 L322.7 336.3 L324.2 336.7 L325.7 337.1 L327.2 337.7 L328.7 338.2 L330.2 338.8 L331.7 339.4 L333.2 340.1 L334.7 340.8 L336.2 341.4 L337.7 342.2 L339.2 342.9 L340.7 343.8 L342.2 344.6 L343.7 345.5 L345.2 346.4 L346.7 347.4 L348.2 348.5 L349.7 349.6 L351.2 350.7 L352.7 351.9 L354.2 353.2 L355.7 354.5 L357.2 355.8 L358.7 357.2 L360.2 358.6 L361.7 360.1 L363.2 361.6 L364.7 363.1 L366.2 364.7 L367.7 366.2 L369.2 367.8 L370.7 369.4 L372.2 370.9 L373.7 372.5 L375.2 374.1 L376.7 375.6 L378.2 377.1 L379.7 378.5 L381.2 379.9 L382.7 381.3 L384.2 382.6 L385.7 383.9 L387.2 385.1 L388.7 386.3 L390.2 387.4 L391.7 388.5 L393.2 389.6 L394.7 390.6 L396.2 391.7 L397.7 392.7 L399.2 393.6 L400.7 394.6 L402.2 395.5 L403.7 396.5 L405.2 397.4 L406.7 398.3 L408.2 399.2 L409.7 400.1 L411.2 400.9 L412.7 401.8 L414.2 402.6 L415.7 403.4 L417.2 404.2 L418.7 404.9 L420.2 405.6 L421.7 406.2 L423.2 406.8 L424.7 407.4 L426.2 408.0 L427.7 408.5 L429.2 409.0 L430.7 409.5 L432.2 409.9 L433.7 410.4 L435.2 410.8 L436.7 411.2 L438.2 411.5 L439.7 411.9 L440.0 412.0"/>
<path stroke-width="2.5" d="M318.2 368.7 L319.7 368.7 L321.2 368.8 L322.7 368.9 L324.2 369.1 L325.7 369.3 L327.2 369.6 L328.7 369.9 L330.2 370.2 L331.7 370.6 L333.2 371.0 L334.7 371.4 L336.2 371.9 L337.7 372.4 L339.2 372.9 L340.7 373.5 L342.2 374.0 L343.7 374.6 L345.2 375.2 L346.7 375.8 L348.2 376.4 L349.7 377.1 L351.2 377.7 L352.7 378.4 L354.2 379.0 L355.7 379.7 L357.2 380.3 L358.7 381.0 L360.2 381.6 L361.7 382.2 L363.2 382.9 L364.7 383.5 L366.2 384.1 L367.7 384.7 L369.2 385.3 L370.7 385.9 L372.2 386.4 L373.7 387.0 L375.2 387.5 L376.7 388.1 L378.2 388.6 L379.7 389.1 L381.2 389.6 L382.7 390.1 L384.2 390.6 L385.7 391.1 L387.2 391.6 L388.7 392.1 L390.2 392.5 L391.7 393.0 L393.2 393.4 L394.7 393.8 L396.2 394.2 L397.7 394.7 L399.2 395.1 L400.7 395.5 L402.2 395.8 L403.7 396.2 L405.2 396.6 L406.7 396.9 L408.2 397.3 L409.7 397.6 L411.2 397.9 L412.7 398.3 L414.2 398.6 L415.7 398.9 L417.2 399.1 L418.7 399.4 L420.2 399.7 L421.7 399.9 L423.2 400.2 L424.7 400.4 L426.2 400.6 L427.7 400.8 L429.2 401.0 L430.7 401.2 L432.2 401.3 L433.7 401.5 L435.2 401.6 L436.7 401.7 L438.2 401.9 L439.7 401.9 L441.2 402.0 L442.7 402.1 L444.2 402.1 L445.7 402.2 L447.2 402.2 L448.3 402.2"/>
<path stroke-width="2.5" d="M318.2 411.0 L319.7 411.0 L321.2 411.1 L322.7 411.2 L324.2 411.3 L325.7 411.4 L327.2 411.6 L328.7 411.8 L330.2 412.0 L331.7 412.2 L333.2 412.4 L334.7 412.7 L336.2 412.9 L337.7 413.2 L339.2 413.5 L340.7 413.8 L342.2 414.1 L343.7 414.4 L345.2 414.7 L346.7 414.9 L348.2 415.2 L349.7 415.5 L351.2 415.7 L352.7 416.0 L354.2 416.2 L355.7 416.4 L357.2 416.6 L358.7 416.8 L360.2 416.9 L361.7 417.0 L363.2 417.1 L364.7 417.1 L366.2 417.2 L367.7 417.2 L369.2 417.1 L370.7 417.1 L372.2 417.0 L373.7 416.9 L375.2 416.8 L376.7 416.6 L378.2 416.5 L379.7 416.3 L381.2 416.0 L382.7 415.8 L384.2 415.5 L385.7 415.3 L387.2 415.0 L388.7 414.6 L390.2 414.3 L391.7 413.9 L393.2 413.6 L394.7 413.2 L396.2 412.8 L397.7 412.3 L399.2 411.9 L400.7 411.4 L402.2 411.0 L403.7 410.5 L405.2 410.0 L406.7 409.5 L408.2 409.0 L409.7 408.5 L411.2 408.0 L412.7 407.4 L414.2 406.9 L415.7 406.5 L417.2 406.0 L418.7 405.5 L420.2 405.1 L421.7 404.7 L423.2 404.4 L424.7 404.0 L426.2 403.7 L427.7 403.5 L429.2 403.2 L430.7 403.0 L432.2 402.9 L433.7 402.7 L435.2 402.6 L436.7 402.5 L438.2 402.4 L439.7 402.3 L441.2 402.3 L442.7 402.3 L444.2 402.2 L445.7 402.2 L447.2 402.2 L448.3 402.2"/>
<path stroke-width="2.5" d="M448.3 271.2 L449.8 271.2 L451.3 271.2 L452.8 271.3 L454.3 271.3 L455.8 271.3 L457.3 271.4 L458.8 271.5 L460.3 271.6 L461.8 271.7 L463.3 271.8 L464.8 271.9 L466.3 272.0 L467.8 272.2 L469.3 272.3 L470.8 272.5 L472.3 272.6 L473.8 272.8 L475.3 273.0 L476.8 273.2 L478.3 273.4 L479.8 273.6 L481.3 273.8 L482.8 274.1 L484.3 274.3 L485.8 274.5 L487.3 274.8 L488.8 275.1 L490.3 275.3 L491.8 275.6 L493.3 275.9 L494.8 276.2 L496.3 276.5 L497.8 276.8 L499.3 277.1 L500.8 277.4 L502.3 277.7 L503.8 278.1 L505.3 278.4 L506.8 278.7 L508.3 279.1 L509.8 279.4 L511.3 279.8 L512.8 280.2 L514.3 280.5 L515.8 280.9 L517.3 281.3 L518.8 281.7 L520.3 282.1 L521.8 282.4 L523.3 282.8 L524.8 283.2 L526.3 283.6 L527.8 284.0 L529.3 284.5 L530.8 284.9 L532.3 285.3 L533.8 285.7 L535.3 286.1 L536.8 286.5 L538.3 286.9 L539.8 287.3 L541.3 287.7 L542.8 288.1 L544.3 288.5 L545.8 288.9 L547.3 289.3 L548.8 289.7 L550.3 290.1 L551.8 290.5 L553.3 290.8 L554.8 291.2 L556.3 291.6 L557.8 292.0 L559.3 292.4 L560.8 292.8 L562.3 293.1 L563.8 293.5 L565.3 293.9 L566.8 294.3 L568.3 294.7 L569.8 295.1 L571.3 295.5 L572.8 295.9 L574.3 296.3 L575.8 296.7 L577.3 297.1 L578.8 297.6 L580.3 298.0 L581.8 298.4 L583.3 298.9 L584.8 299.3 L586.3 299.8 L587.8 300.2 L589.3 300.7 L590.8 301.1 L592.3 301.5 L593.8 302.0 L595.3 302.4 L596.8 302.8 L598.3 303.2 L599.8 303.6 L601.3 304.0 L602.8 304.3 L604.3 304.7 L605.8 305.1 L607.3 305.4 L608.8 305.7 L610.3 306.1 L611.8 306.4 L613.3 306.7 L614.8 307.0 L616.3 307.3 L617.8 307.6 L619.3 307.9 L620.8 308.1 L622.3 308.4 L623.8 308.7 L625.3 308.9 L626.8 309.2 L628.3 309.4 L629.8 309.7 L631.3 309.9 L632.8 310.2 L634.3 310.4 L635.8 310.6 L637.3 310.8 L638.8 311.0 L640.3 311.2 L641.8 311.4 L643.3 311.5 L644.8 311.7 L646.3 311.9 L647.8 312.0 L649.3 312.1 L650.8 312.3 L652.3 312.4 L653.8 312.5 L655.3 312.6 L656.8 312.7 L658.3 312.8 L659.8 312.9 L661.3 312.9 L662.8 313.0 L664.3 313.0 L665.8 313.1 L667.3 313.1 L668.8 313.2 L670.3 313.2 L671.8 313.2 L673.3 313.2 L674.0 313.2"/>
<path stroke-width="2.9" d="M448.3 271.2 L449.8 271.2 L451.3 271.3 L452.8 271.3 L454.3 271.5 L455.8 271.6 L457.3 271.8 L458.8 272.0 L460.3 272.2 L461.8 272.4 L463.3 272.7 L464.8 273.0 L466.3 273.3 L467.8 273.7 L469.3 274.0 L470.8 274.4 L472.3 274.8 L473.8 275.2 L475.3 275.7 L476.8 276.1 L478.3 276.6 L479.8 277.1 L481.3 277.6 L482.8 278.1 L484.3 278.6 L485.8 279.2 L487.3 279.7 L488.8 280.3 L490.3 280.9 L491.8 281.4 L493.3 282.0 L494.8 282.6 L496.3 283.2 L497.8 283.8 L499.3 284.4 L500.8 285.0 L502.3 285.6 L503.8 286.2 L505.3 286.8 L506.8 287.4 L508.3 288.0 L509.8 288.6 L511.3 289.2 L512.8 289.8 L514.3 290.3 L515.8 290.9 L517.3 291.5 L518.8 292.0 L520.3 292.6 L521.8 293.1 L523.3 293.7 L524.8 294.2 L526.3 294.7 L527.8 295.2 L529.3 295.6 L530.8 296.1 L532.3 296.6 L533.8 297.0 L535.3 297.4 L536.8 297.9 L538.3 298.3 L539.8 298.6 L541.3 299.0 L542.8 299.4 L544.3 299.7 L545.8 300.1 L547.3 300.4 L548.8 300.7 L550.3 301.0 L551.8 301.3 L553.3 301.6 L554.8 301.8 L556.3 302.1 L557.8 302.3 L559.3 302.5 L560.8 302.7 L562.3 302.9 L563.8 303.1 L565.3 303.3 L566.8 303.4 L568.3 303.5 L569.8 303.7 L571.3 303.8 L572.8 303.9 L574.3 304.0 L575.8 304.0 L577.3 304.1 L578.8 304.1 L580.3 304.2 L581.8 304.2 L583.3 304.2 L584.8 304.1 L586.3 304.1 L587.8 304.0 L589.3 303.8 L590.8 303.7 L592.3 303.5 L593.8 303.3 L595.3 303.1 L596.8 302.8 L598.3 302.5 L599.8 302.1 L601.3 301.8 L602.8 301.4 L604.3 300.9 L605.8 300.5 L607.3 300.0 L608.8 299.5 L610.3 299.1 L611.8 298.6 L613.3 298.1 L614.8 297.5 L616.3 297.0 L617.8 296.5 L619.3 296.0 L620.8 295.5 L622.3 295.1 L623.8 294.6 L625.3 294.1 L626.8 293.7 L628.3 293.2 L629.8 292.8 L631.3 292.3 L632.8 291.9 L634.3 291.5 L635.8 291.1 L637.3 290.7 L638.8 290.3 L640.3 289.9 L641.8 289.5 L643.3 289.1 L644.8 288.7 L646.3 288.4 L647.8 288.0 L649.3 287.7 L650.8 287.3 L652.3 287.0 L653.8 286.6 L655.3 286.3 L656.8 286.0 L658.3 285.8 L659.8 285.5 L661.3 285.3 L662.8 285.0 L664.3 284.8 L665.8 284.7 L667.3 284.5 L668.8 284.4 L670.3 284.3 L671.8 284.2 L673.3 284.2 L674.0 284.2"/>
<path stroke-width="2.5" d="M455.0 413.5 L456.5 413.2 L458.0 412.9 L459.5 412.6 L461.0 412.4 L462.5 412.1 L464.0 411.8 L465.5 411.5 L467.0 411.3 L468.5 411.0 L470.0 410.8 L471.5 410.5 L473.0 410.3 L474.5 410.1 L476.0 409.9 L477.5 409.7 L479.0 409.5 L480.5 409.2 L482.0 409.0 L483.5 408.8 L485.0 408.6 L486.5 408.4 L488.0 408.1 L489.5 407.9 L491.0 407.6 L492.5 407.3 L494.0 407.0 L495.5 406.7 L497.0 406.3 L498.5 405.9 L500.0 405.6 L501.5 405.2 L503.0 404.8 L504.5 404.4 L506.0 403.9 L507.5 403.5 L509.0 403.1 L510.5 402.6 L512.0 402.1 L513.5 401.6 L515.0 401.0 L516.5 400.4 L518.0 399.8 L519.5 399.1 L521.0 398.4 L522.5 397.6 L524.0 396.8 L525.5 396.0 L527.0 395.1 L528.5 394.2 L530.0 393.2 L531.5 392.3 L533.0 391.3 L534.5 390.2 L536.0 389.2 L537.5 388.1 L539.0 387.1 L540.5 386.0 L542.0 384.8 L543.5 383.7 L545.0 382.6 L546.5 381.4 L548.0 380.2 L549.5 379.0 L551.0 377.8 L552.5 376.5 L554.0 375.2 L555.5 373.9 L557.0 372.6 L558.5 371.2 L560.0 369.8 L561.5 368.4 L563.0 367.0 L564.5 365.5 L566.0 364.1 L567.5 362.6 L569.0 361.1 L570.5 359.6 L572.0 358.1 L573.5 356.6 L575.0 355.1 L576.5 353.6 L578.0 352.1 L579.5 350.6 L581.0 349.1 L582.5 347.6 L584.0 346.2 L585.5 344.7 L587.0 343.3 L588.5 341.8 L590.0 340.4 L591.5 338.9 L593.0 337.5 L594.5 336.1 L596.0 334.7 L597.5 333.3 L599.0 332.0 L600.5 330.6 L602.0 329.3 L603.5 327.9 L605.0 326.6 L606.5 325.2 L608.0 323.9 L609.5 322.6 L611.0 321.3 L612.5 320.0 L614.0 318.7 L615.5 317.4 L617.0 316.1 L618.5 314.8 L620.0 313.5 L621.5 312.1 L623.0 310.8 L624.5 309.5 L626.0 308.2 L627.5 306.9 L629.0 305.6 L630.5 304.3 L632.0 303.1 L633.5 301.9 L635.0 300.6 L636.5 299.5 L638.0 298.3 L639.5 297.2 L641.0 296.2 L642.5 295.2 L644.0 294.2 L645.5 293.3 L647.0 292.5 L648.5 291.7 L650.0 290.9 L651.5 290.2 L653.0 289.6 L654.5 289.0 L656.0 288.4 L657.5 287.8 L659.0 287.3 L660.5 286.8 L662.0 286.3 L663.5 285.8 L665.0 285.4 L666.5 285.1 L668.0 284.8 L669.5 284.5 L671.0 284.3 L672.5 284.2 L674.0 284.2"/>
<path stroke-width="2.9" d="M448.3 402.2 L449.8 402.2 L451.3 402.1 L452.8 402.0 L454.3 401.9 L455.8 401.7 L457.3 401.5 L458.8 401.3 L460.3 401.1 L461.8 400.9 L463.3 400.7 L464.8 400.4 L466.3 400.2 L467.8 400.0 L469.3 399.8 L470.8 399.6 L472.3 399.4 L473.8 399.2 L475.3 399.1 L476.8 398.9 L478.3 398.8 L479.8 398.6 L481.3 398.4 L482.8 398.3 L484.3 398.1 L485.8 397.9 L487.3 397.6 L488.8 397.4 L490.3 397.1 L491.8 396.9 L493.3 396.6 L494.8 396.2 L496.3 395.9 L497.8 395.5 L499.3 395.2 L500.8 394.8 L502.3 394.4 L503.8 394.1 L505.3 393.7 L506.8 393.4 L508.3 393.0 L509.8 392.7 L511.3 392.3 L512.8 391.9 L514.3 391.5 L515.8 391.2 L517.3 390.8 L518.8 390.3 L520.3 389.9 L521.8 389.5 L523.3 389.0 L524.8 388.5 L526.3 388.0 L527.8 387.5 L529.3 386.9 L530.8 386.3 L532.3 385.7 L533.8 385.1 L535.3 384.5 L536.8 383.9 L538.3 383.2 L539.8 382.6 L541.3 381.9 L542.8 381.2 L544.3 380.5 L545.8 379.8 L547.3 379.0 L548.8 378.3 L550.3 377.5 L551.8 376.8 L553.3 376.0 L554.8 375.2 L556.3 374.4 L557.8 373.6 L559.3 372.7 L560.8 371.8 L562.3 370.9 L563.8 370.0 L565.3 369.0 L566.8 368.1 L568.3 367.1 L569.8 366.2 L571.3 365.2 L572.8 364.2 L574.3 363.3 L575.8 362.4 L577.3 361.5 L578.8 360.6 L580.3 359.7 L581.8 358.9 L583.3 358.1 L584.8 357.2 L586.3 356.3 L587.8 355.4 L589.3 354.5 L590.8 353.5 L592.3 352.5 L593.8 351.4 L595.3 350.2 L596.8 349.0 L598.3 347.6 L599.8 346.3 L601.3 344.8 L602.8 343.4 L604.3 342.0 L605.8 340.6 L607.3 339.2 L608.8 337.9 L610.3 336.7 L611.8 335.4 L613.3 334.3 L614.8 333.2 L616.3 332.1 L617.8 331.1 L619.3 330.2 L620.8 329.3 L622.3 328.5 L623.8 327.6 L625.3 326.9 L626.8 326.1 L628.3 325.4 L629.8 324.6 L631.3 323.9 L632.8 323.2 L634.3 322.6 L635.8 321.9 L637.3 321.3 L638.8 320.7 L640.3 320.1 L641.8 319.5 L643.3 318.9 L644.8 318.4 L646.3 317.9 L647.8 317.4 L649.3 316.9 L650.8 316.4 L652.3 316.0 L653.8 315.6 L655.3 315.2 L656.8 314.9 L658.3 314.5 L659.8 314.3 L661.3 314.0 L662.8 313.8 L664.3 313.6 L665.8 313.5 L667.3 313.4 L668.8 313.3 L670.3 313.2 L671.8 313.2 L673.3 313.2 L674.0 313.2"/>
<path stroke-width="2.5" d="M448.3 402.2 L449.8 402.2 L451.3 402.2 L452.8 402.2 L454.3 402.2 L455.8 402.2 L457.3 402.3 L458.8 402.3 L460.3 402.3 L461.8 402.3 L463.3 402.4 L464.8 402.4 L466.3 402.5 L467.8 402.5 L469.3 402.6 L470.8 402.7 L472.3 402.8 L473.8 402.8 L475.3 402.9 L476.8 403.0 L478.3 403.1 L479.8 403.1 L481.3 403.2 L482.8 403.3 L484.3 403.3 L485.8 403.4 L487.3 403.4 L488.8 403.4 L490.3 403.4 L491.8 403.4 L493.3 403.3 L494.8 403.3 L496.3 403.2 L497.8 403.1 L499.3 403.0 L500.8 402.8 L502.3 402.6 L503.8 402.4 L505.3 402.2 L506.8 402.0 L508.3 401.7 L509.8 401.4 L511.3 401.1 L512.8 400.7 L514.3 400.3 L515.8 399.9 L517.3 399.4 L518.8 399.0 L520.3 398.4 L521.8 397.9 L523.3 397.3 L524.8 396.7 L526.3 396.0 L527.8 395.4 L529.3 394.7 L530.8 394.1 L532.3 393.4 L533.8 392.8 L535.3 392.3 L536.8 391.7 L538.3 391.2 L539.8 390.7 L541.3 390.2 L542.8 389.8 L544.3 389.3 L545.8 388.9 L547.3 388.4 L548.8 388.0 L550.3 387.5 L551.8 387.0 L553.3 386.5 L554.8 386.0 L556.3 385.5 L557.8 385.0 L559.3 384.5 L560.8 384.1 L562.3 383.6 L563.8 383.2 L565.3 382.8 L566.8 382.4 L568.3 382.0 L569.8 381.7 L571.3 381.3 L572.8 381.0 L574.3 380.8 L575.8 380.5 L577.3 380.2 L578.8 380.0 L580.3 379.8 L581.8 379.6 L583.3 379.5 L584.8 379.3 L586.3 379.1 L587.8 379.0 L589.3 378.8 L590.8 378.7 L592.3 378.5 L593.8 378.4 L595.3 378.2 L596.8 378.1 L598.3 377.9 L599.8 377.7 L601.3 377.5 L602.8 377.4 L604.3 377.2 L605.8 377.0 L607.3 376.8 L608.8 376.6 L610.3 376.4 L611.8 376.2 L613.3 376.0 L614.8 375.9 L616.3 375.7 L617.8 375.6 L619.3 375.4 L620.8 375.3 L622.3 375.2 L623.8 375.1 L625.3 375.0 L626.8 375.0 L628.3 374.9 L629.8 374.8 L631.3 374.8 L632.8 374.7 L634.3 374.7 L635.8 374.6 L637.3 374.6 L638.8 374.6 L640.3 374.6 L641.8 374.5 L643.3 374.5 L644.8 374.5 L646.3 374.5 L647.8 374.5 L649.3 374.4 L650.8 374.4 L652.3 374.4 L653.8 374.4 L655.3 374.4 L656.8 374.4 L658.3 374.4 L659.8 374.3 L661.3 374.3 L662.8 374.3 L664.3 374.3 L665.8 374.3 L667.3 374.3 L668.8 374.3 L670.3 374.3 L671.8 374.3 L673.3 374.3 L674.0 374.3"/>
<path stroke-width="2.5" d="M545.0 421.0 L546.5 420.4 L548.0 419.7 L549.5 419.1 L551.0 418.5 L552.5 417.8 L554.0 417.2 L555.5 416.6 L557.0 415.9 L558.5 415.3 L560.0 414.7 L561.5 414.0 L563.0 413.4 L564.5 412.8 L566.0 412.1 L567.5 411.5 L569.0 410.9 L570.5 410.2 L572.0 409.6 L573.5 409.0 L575.0 408.4 L576.5 407.8 L578.0 407.1 L579.5 406.5 L581.0 405.9 L582.5 405.3 L584.0 404.6 L585.5 404.0 L587.0 403.3 L588.5 402.7 L590.0 402.0 L591.5 401.4 L593.0 400.7 L594.5 400.0 L596.0 399.4 L597.5 398.7 L599.0 398.0 L600.5 397.3 L602.0 396.6 L603.5 395.8 L605.0 395.1 L606.5 394.4 L608.0 393.7 L609.5 393.0 L611.0 392.3 L612.5 391.6 L614.0 390.9 L615.5 390.2 L617.0 389.6 L618.5 388.9 L620.0 388.3 L621.5 387.6 L623.0 387.0 L624.5 386.4 L626.0 385.8 L627.5 385.2 L629.0 384.7 L630.5 384.1 L632.0 383.6 L633.5 383.1 L635.0 382.5 L636.5 382.0 L638.0 381.5 L639.5 381.0 L641.0 380.6 L642.5 380.1 L644.0 379.6 L645.5 379.2 L647.0 378.8 L648.5 378.3 L650.0 377.9 L651.5 377.5 L653.0 377.2 L654.5 376.8 L656.0 376.5 L657.5 376.1 L659.0 375.8 L660.5 375.6 L662.0 375.3 L663.5 375.1 L665.0 374.9 L666.5 374.7 L668.0 374.6 L669.5 374.5 L671.0 374.4 L672.5 374.3 L674.0 374.3"/>
</g>
<rect x="432.6" y="189.7" width="232.7" height="57.4" rx="3" ry="3" fill="#ffffff" fill-opacity="0.8" stroke="#d6d6d6" stroke-width="1.1"/>
<rect x="438.1" y="196" width="19.6" height="17.4" fill="#b9251b"/>
<rect x="438.1" y="221.8" width="19.6" height="17.4" fill="#000000"/>
<text x="471.2" y="211.2" font-size="17.65">Wannier90 Interpolation</text>
<text x="471.2" y="237" font-size="17.6">G<tspan font-size="12.8" dy="2.9" dx="0.3">0</tspan><tspan dy="-2.9" dx="0.9">W</tspan><tspan font-size="12.8" dy="2.9" dx="0.3">0</tspan></text>

<rect x="57.7" y="26.3" width="616.3" height="384.09999999999997" fill="none" stroke="#000000" stroke-width="2"/>
<g stroke="#000000" stroke-width="2">
<line x1="47.3" y1="61.2" x2="57.7" y2="61.2"/>
<line x1="674.0" y1="61.2" x2="685" y2="61.2"/>
<line x1="47.3" y1="131.0" x2="57.7" y2="131.0"/>
<line x1="674.0" y1="131.0" x2="685" y2="131.0"/>
<line x1="47.3" y1="200.9" x2="57.7" y2="200.9"/>
<line x1="674.0" y1="200.9" x2="685" y2="200.9"/>
<line x1="47.3" y1="270.7" x2="57.7" y2="270.7"/>
<line x1="674.0" y1="270.7" x2="685" y2="270.7"/>
<line x1="47.3" y1="340.5" x2="57.7" y2="340.5"/>
<line x1="674.0" y1="340.5" x2="685" y2="340.5"/>
<line x1="47.3" y1="410.4" x2="57.7" y2="410.4"/>
<line x1="674.0" y1="410.4" x2="685" y2="410.4"/>
<line x1="57.7" y1="410.4" x2="57.7" y2="420.8"/>
<line x1="187.95" y1="410.4" x2="187.95" y2="420.8"/>
<line x1="318.2" y1="410.4" x2="318.2" y2="420.8"/>
<line x1="448.3" y1="410.4" x2="448.3" y2="420.8"/>
<line x1="674.0" y1="410.4" x2="674.0" y2="420.8"/>
</g>
<text x="41.1" y="70.4" font-size="25.5" text-anchor="end">6</text>
<text x="41.1" y="140.2" font-size="25.5" text-anchor="end">4</text>
<text x="41.1" y="210.1" font-size="25.5" text-anchor="end">2</text>
<text x="41.1" y="279.9" font-size="25.5" text-anchor="end">0</text>
<text x="41.1" y="349.7" font-size="25.5" text-anchor="end">−2</text>
<text x="41.1" y="419.6" font-size="25.5" text-anchor="end">−4</text>
<text x="57.7" y="450.4" font-size="33" text-anchor="middle">G</text>
<text x="187.95" y="450.4" font-size="33" text-anchor="middle">X</text>
<text x="318.2" y="450.4" font-size="33" text-anchor="middle">M</text>
<text x="448.3" y="450.4" font-size="33" text-anchor="middle">R</text>
<text x="674.0" y="450.4" font-size="33" text-anchor="middle">G</text>
<text transform="translate(20.7,141.6) rotate(-90)" font-size="28.4" text-anchor="middle">Energy (eV)</text>
<g font-size="21.5"><text x="228.9" y="15.3">SrTiO</text><text x="284.2" y="19.2" font-size="16.2">3</text><text x="300.5" y="15.3">G</text><text x="316.7" y="19.2" font-size="16.2">0</text><text x="326.5" y="15.3">W</text><text x="347.6" y="19.2" font-size="16.2">0</text><text x="364" y="15.3" font-size="21.2">Wannierization</text></g>
<line x1="8.2" y1="432.2" x2="8.2" y2="437" stroke="#d8d8d8" stroke-width="1"/>
</svg></body></html>
